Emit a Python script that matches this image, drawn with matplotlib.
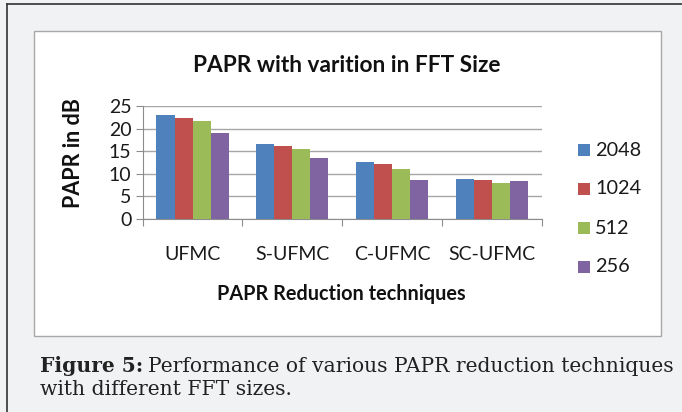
"""PAPR vs FFT size for the four UFMC variants, grouped bars inside a framed panel."""
import numpy as np
import matplotlib
matplotlib.use("Agg")
import matplotlib.pyplot as plt
from matplotlib.patches import Rectangle
from matplotlib.lines import Line2D

techniques = ["UFMC", "S-UFMC", "C-UFMC", "SC-UFMC"]
fft_sizes = ["2048", "1024", "512", "256"]
papr_2048 = [22.9, 16.7, 12.6, 8.8]
papr_1024 = [22.3, 16.2, 12.1, 8.55]
papr_512 = [21.6, 15.5, 11.1, 8.0]
papr_256 = [19.0, 13.4, 8.55, 8.3]
yticks = [0, 5, 10, 15, 20, 25]

colors = ["#4F81BD", "#C0504D", "#9BBB59", "#8064A2"]
W, H = 682, 412
SANS = ["Lato", "DejaVu Sans"]


def fx(x):
    return x / W


def fy(y):
    return 1 - y / H


fig = plt.figure(figsize=(W / 100, H / 100), dpi=100, facecolor="#f1f2f4")

# outer page border (left / top) and the white chart panel, kept behind the axes
fig.add_artist(Line2D([fx(7), fx(7)], [fy(4), 0], color="#333333", lw=1.2, zorder=-10))
fig.add_artist(Line2D([fx(7), 1], [fy(4), fy(4)], color="#333333", lw=1.2, zorder=-10))
fig.add_artist(Rectangle((fx(34), fy(336)), fx(661) - fx(34), fy(31) - fy(336),
                         facecolor="white", edgecolor="#a8a8a8", lw=1.0, zorder=-10))

ax = fig.add_axes([fx(142.7), fy(219), fx(541.7) - fx(142.7), fy(106) - fy(219)])
ax.set_facecolor("none")

x = np.arange(len(techniques))
bw = 0.181
for i, (vals, c) in enumerate(zip([papr_2048, papr_1024, papr_512, papr_256], colors)):
    ax.bar(x + (i - 1.5) * bw, vals, width=bw, color=c, label=fft_sizes[i], zorder=3)

ax.set_xlim(-0.5, len(techniques) - 0.5)
ax.set_ylim(0, 25)
ax.set_yticks(yticks)
ax.set_yticklabels([str(t) for t in yticks], family=SANS, fontsize=14, color="#1a1a1a")
ax.set_xticks(np.arange(-0.5, len(techniques)))
ax.set_xticklabels([])
ax.tick_params(axis="x", length=5, color="#8c8c8c", direction="out")
ax.tick_params(axis="y", length=5, color="#8c8c8c", direction="out", pad=3)
ax.grid(axis="y", color="#a6a6a6", lw=1.0, zorder=0)
for s in ["top", "right"]:
    ax.spines[s].set_visible(False)
ax.spines["left"].set_color("#8c8c8c")
ax.spines["bottom"].set_color("#8c8c8c")

for xi, name in zip(x, techniques):
    ax.text(xi, -0.31, name, transform=ax.get_xaxis_transform(), ha="center", va="center",
            family=SANS, fontsize=14, color="#1a1a1a")

fig.text(fx(347), fy(65), "PAPR with varition in FFT Size", ha="center", va="center",
         family=SANS, fontsize=16.3, fontweight="bold", color="#111111")
fig.text(fx(73), fy(153), "PAPR in dB", ha="center", va="center", rotation=90,
         family=SANS, fontsize=15.5, fontweight="bold", color="#111111")
fig.text(fx(341), fy(294), "PAPR Reduction techniques", ha="center", va="center",
         family=SANS, fontsize=14.3, fontweight="bold", color="#111111")

# legend drawn as a manual column
for i, (lab, c) in enumerate(zip(fft_sizes, colors)):
    yc = 150 + i * 39
    fig.add_artist(Rectangle((fx(578), fy(yc + 6)), fx(12), 12 / H, facecolor=c, edgecolor="none"))
    fig.text(fx(595), fy(yc), lab, ha="left", va="center", family=SANS, fontsize=14.3,
             color="#1a1a1a")

# caption
SERIF = ["DejaVu Serif"]
t1 = fig.text(fx(40), fy(372), "Figure 5:", ha="left", va="baseline", family=SERIF,
              fontsize=14.6, fontweight="bold", color="#222222")
r = fig.canvas.get_renderer()
bb = t1.get_window_extent(renderer=r)
fig.text(bb.x1 / W + fx(5), fy(372), "Performance of various PAPR reduction techniques",
         ha="left", va="baseline", family=SERIF, fontsize=14.6, color="#222222")
fig.text(fx(40), fy(395), "with different FFT sizes.", ha="left", va="baseline",
         family=SERIF, fontsize=14.6, color="#222222")

fig.savefig("out.png", dpi=100, facecolor=fig.get_facecolor())
